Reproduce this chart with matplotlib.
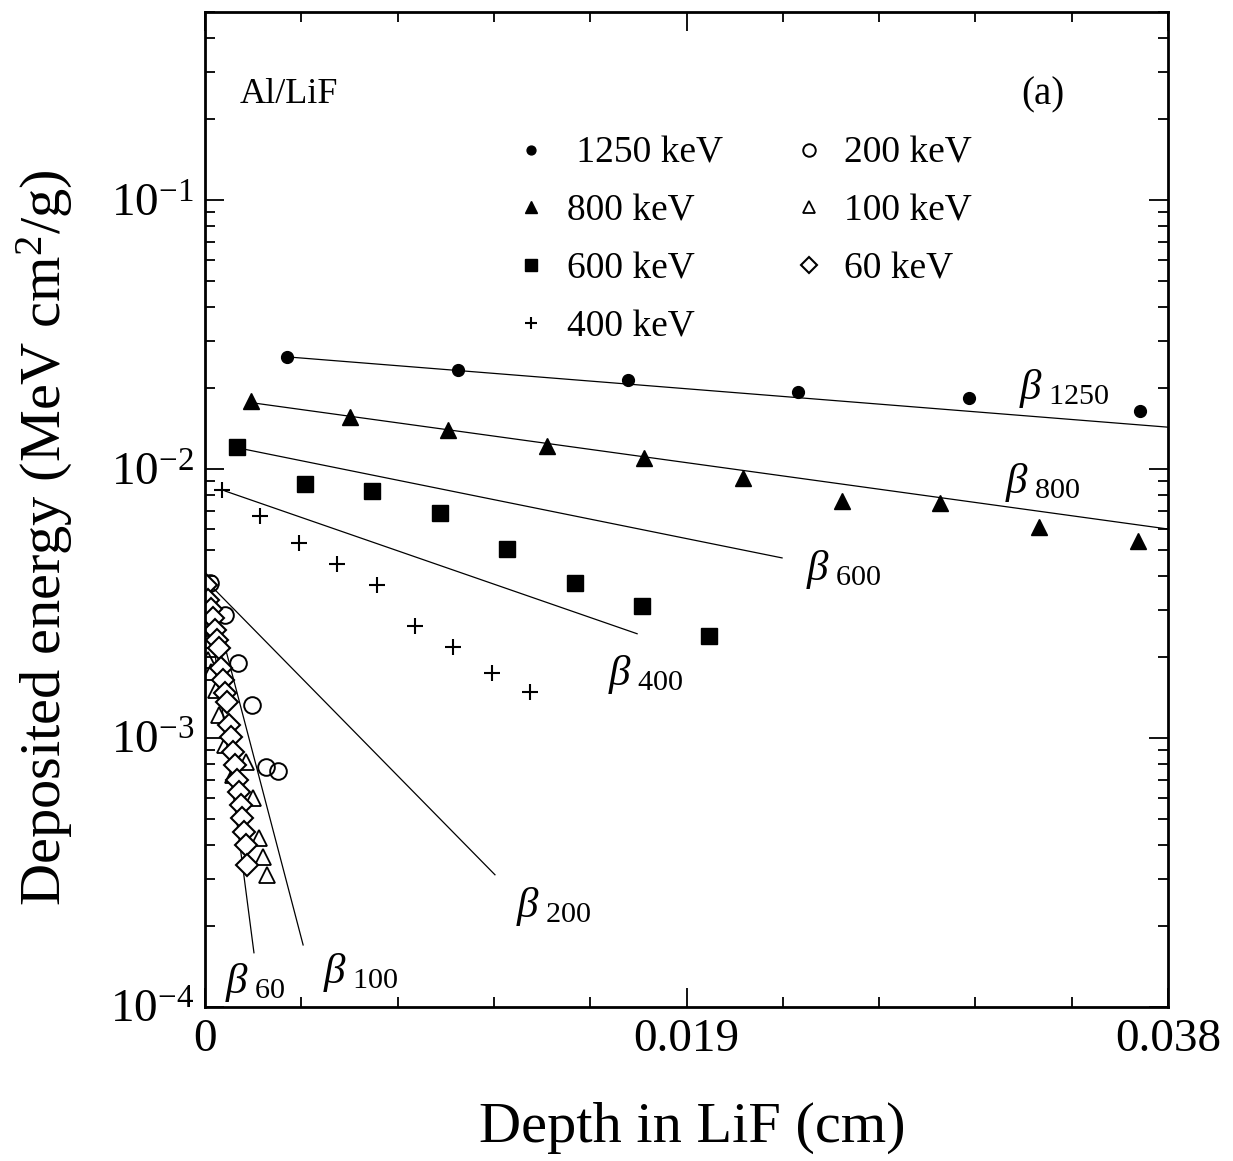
import matplotlib
matplotlib.use("Agg")
import matplotlib.pyplot as plt
from matplotlib.ticker import MultipleLocator, LogLocator, NullFormatter

plt.rcParams['font.family'] = ['Liberation Serif', 'DejaVu Serif']
plt.rcParams['mathtext.fontset'] = 'custom'
plt.rcParams['mathtext.rm'] = 'Liberation Serif'
plt.rcParams['mathtext.it'] = 'Liberation Serif:italic'

# depth (cm) and deposited energy (MeV cm2/g) per beam energy
x_1250 = [0.00324, 0.00998, 0.01669, 0.0234, 0.03015, 0.0369]
y_1250 = [0.0261, 0.0233, 0.0214, 0.0193, 0.0184, 0.0164]

x_800 = [0.00182, 0.00572, 0.00959, 0.0135, 0.01732, 0.02123, 0.02514, 0.029, 0.03291, 0.03682]
y_800 = [0.0179, 0.0156, 0.0140, 0.0122, 0.0110, 0.00926, 0.0076, 0.00747, 0.00609, 0.0054]

x_600 = [0.00126, 0.00395, 0.00659, 0.00927, 0.01192, 0.0146, 0.01724, 0.01989]
y_600 = [0.0121, 0.0088, 0.0083, 0.00686, 0.00504, 0.00377, 0.0031, 0.0024]

x_400 = [0.00067, 0.00217, 0.00371, 0.00521, 0.00679, 0.00829, 0.00979, 0.01133, 0.01282]
y_400 = [0.00836, 0.00669, 0.00531, 0.00443, 0.00371, 0.00261, 0.00218, 0.00174, 0.00148]

x_200 = [0.0002, 0.00079, 0.0013, 0.00186, 0.00241, 0.00288]
y_200 = [0.00377, 0.00287, 0.0019, 0.00133, 0.00078, 0.000754]

x_100 = [0.0, 0.00004, 0.00008, 0.00012, 0.00024, 0.00043, 0.00055, 0.00079, 0.0011,
         0.00162, 0.00189, 0.00213, 0.00229, 0.00245]
y_100 = [0.00294, 0.00256, 0.00231, 0.00195, 0.00176, 0.00151, 0.00122, 0.000942, 0.000729,
         0.000814, 0.000598, 0.000425, 0.000361, 0.00031]

x_60 = [0.00004, 0.00012, 0.00024, 0.00032, 0.00039, 0.00047, 0.00055, 0.00063, 0.00071,
        0.00079, 0.00087, 0.00095, 0.00103, 0.0011, 0.00118, 0.00126, 0.00134, 0.00142,
        0.00146, 0.00154, 0.00162, 0.00166]
y_60 = [0.0037, 0.00326, 0.00302, 0.00279, 0.00252, 0.00231, 0.00216, 0.00182, 0.00164,
        0.00147, 0.00136, 0.00112, 0.00101, 0.000887, 0.000794, 0.000698, 0.00063, 0.000564,
        0.000504, 0.000447, 0.0004, 0.000337]

# beta fit lines: (start, end) of each
beta_x = {
    "1250": [0.00324, 0.038], "800": [0.0019, 0.038], "600": [0.0015, 0.02277],
    "400": [0.00079, 0.01705], "200": [0.00032, 0.01144], "100": [0.0002, 0.00387],
    "60": [0.00004, 0.00193],
}
beta_y = {
    "1250": [0.0261, 0.0143], "800": [0.0176, 0.00598], "600": [0.01187, 0.00467],
    "400": [0.00828, 0.00244], "200": [0.00361, 0.00031], "100": [0.00355, 0.00017],
    "60": [0.0037, 0.000159],
}
# label spots in axes fraction
beta_pos = {
    "1250": (0.845, 0.622), "800": (0.831, 0.527), "600": (0.624, 0.440),
    "400": (0.418, 0.334), "200": (0.323, 0.101), "100": (0.122, 0.035),
    "60": (0.021, 0.025),
}

fig = plt.figure(figsize=(12.33, 11.61), dpi=100)
ax = fig.add_axes([0.1663, 0.1327, 0.781, 0.857])

for k in beta_x:
    ax.plot(beta_x[k], beta_y[k], color="black", lw=0.9)

ax.plot(x_1250, y_1250, 'o', color="black", ms=8.5, label=" 1250 keV")
ax.plot(x_800, y_800, '^', color="black", ms=11.5, label="800 keV")
ax.plot(x_600, y_600, 's', color="black", ms=11, label="600 keV")
ax.plot(x_400, y_400, '+', color="black", ms=12, mew=1.5, label="400 keV")
ax.plot(x_200, y_200, 'o', mfc="none", mec="black", ms=12, mew=1.4, label="200 keV")
ax.plot(x_100, y_100, '^', mfc="none", mec="black", ms=11, mew=1.3, label="100 keV")
ax.plot(x_60, y_60, 'D', mfc="white", mec="black", ms=11, mew=1.5, label="60 keV")

for k, (px, py) in beta_pos.items():
    ax.text(px, py, r"$\beta_{\ %s}$" % k, transform=ax.transAxes, fontsize=31,
            ha="left", va="center")

ax.text(0.036, 0.917, "Al/LiF", transform=ax.transAxes, fontsize=26, ha="left", va="center")
ax.text(0.893, 0.917, "(a)", transform=ax.transAxes, fontsize=28, ha="right", va="center")

ax.legend(ncol=2, frameon=False, loc="upper left", bbox_to_anchor=(0.317, 0.875),
          fontsize=27, markerscale=0.75, handlelength=1.1, handletextpad=0.4,
          labelspacing=0.62, columnspacing=1.75, borderpad=0, borderaxespad=0)

ax.set_yscale("log")
ax.set_ylim(1e-4, 0.5)
ax.set_xlim(0, 0.038)
ax.set_xticks([0, 0.019, 0.038], ["0", "0.019", "0.038"])
ax.xaxis.set_minor_locator(MultipleLocator(0.0038))
ax.yaxis.set_major_locator(LogLocator(base=10, numticks=10))
ax.yaxis.set_minor_locator(LogLocator(base=10, subs=range(2, 10), numticks=20))
ax.yaxis.set_minor_formatter(NullFormatter())

ax.tick_params(which="both", direction="in", top=True, right=True, width=1.3)
ax.tick_params(which="major", length=14, labelsize=34, pad=8)
ax.tick_params(which="minor", length=7)
for s in ax.spines.values():
    s.set_linewidth(2.0)

ax.set_xlabel("Depth in LiF (cm)", fontsize=42, va="center")
ax.xaxis.set_label_coords(0.506, -0.1216)
ax.set_ylabel("Deposited energy (MeV cm$^2$/g)", fontsize=42, va="center")
ax.yaxis.set_label_coords(-0.166, 0.472)

fig.savefig("out.png", dpi=100)
